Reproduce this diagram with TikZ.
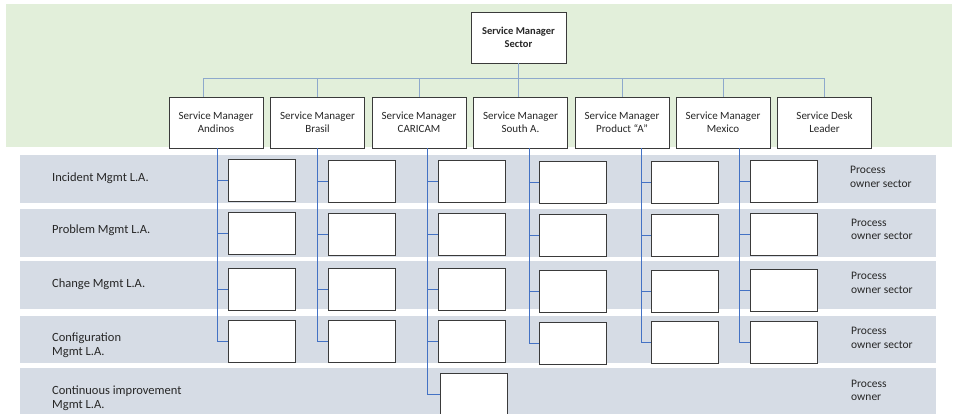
\documentclass[tikz,border=0pt]{standalone}
\usepackage{fontspec}
\setmainfont{Carlito}
\definecolor{greenbg}{HTML}{E2EFDA}
\definecolor{bandbg}{HTML}{D6DCE5}
\definecolor{toplink}{HTML}{8EA9CC}
\definecolor{lowlink}{HTML}{4472C4}
\definecolor{boxline}{HTML}{3A3A3A}
\definecolor{txt}{HTML}{262626}
\tikzset{
  mgr/.style={draw=boxline, fill=white, line width=0.9pt, inner sep=0pt, minimum width=94pt, minimum height=51pt, align=center, text=txt, font=\fontsize{11}{13}\selectfont},
  topmgr/.style={mgr, minimum width=95pt, font=\fontsize{10.5}{13}\selectfont\bfseries},
  slot/.style={draw=boxline, fill=white, line width=0.9pt, inner sep=0pt, minimum width=67pt, minimum height=42pt},
  band/.style={fill=bandbg, draw=none},
  rowlabel/.style={anchor=west, align=left, inner sep=0pt, text=txt, font=\fontsize{12.5}{14.5}\selectfont},
  ownlabel/.style={anchor=west, align=left, inner sep=0pt, text=txt, font=\fontsize{11.5}{13.5}\selectfont},
  topconn/.style={draw=toplink, line width=1.1pt},
  conn/.style={draw=lowlink, line width=1pt}
}
\begin{document}
\begin{tikzpicture}[x=1pt,y=-1pt]
\clip (0,0) rectangle (957,413);
\fill[white] (0,0) rectangle (957,413);
% backgrounds
\fill[greenbg] (6,4) rectangle (952,147);
\fill[band] (20,155) rectangle (936,203);
\fill[band] (20,209) rectangle (936,257);
\fill[band] (20,261) rectangle (936,309);
\fill[band] (20,316) rectangle (936,363);
\fill[band] (20,368) rectangle (936,420);
% top
\node[topmgr] (top) at (518.5,37.5) {Service Manager\\Sector};
\node[mgr] (smA) at (216,122.5) {Service Manager\\Andinos};
\node[mgr] (smB) at (317.5,122.5) {Service Manager\\Brasil};
\node[mgr] (smC) at (419,122.5) {Service Manager\\CARICAM};
\node[mgr] (smS) at (520.5,122.5) {Service Manager\\South A.};
\node[mgr] (smP) at (622,122.5) {Service Manager\\Product “A”};
\node[mgr] (smM) at (723,122.5) {Service Manager\\Mexico};
\node[mgr] (smD) at (824.5,122.5) {Service Desk\\Leader};
\coordinate (bus) at (0,78.5);
\draw[topconn] (top.south) -- (top.south |- bus);
\draw[topconn] (top.south |- bus) -| ([xshift=-12.5pt]smA.north);
\draw[topconn] (top.south |- bus) -| (smB.north);
\draw[topconn] (top.south |- bus) -| ([xshift=0.5pt]smC.north);
\draw[topconn] (top.south |- bus) -| ([xshift=-2pt]smS.north);
\draw[topconn] (top.south |- bus) -| ([xshift=0.5pt]smP.north);
\draw[topconn] (top.south |- bus) -| ([xshift=0.5pt]smM.north);
\draw[topconn] (top.south |- bus) -| (smD.north);
% slots
\node[slot] (a1) at (261.5,180.5) {};
\node[slot] (a2) at (261.5,233.5) {};
\node[slot] (a3) at (261.5,289) {};
\node[slot] (a4) at (261.5,341) {};
\node[slot] (b1) at (362,181) {};
\node[slot] (b2) at (362,234.5) {};
\node[slot] (b3) at (362,289.5) {};
\node[slot] (b4) at (362,341.5) {};
\node[slot] (c1) at (472,181) {};
\node[slot] (c2) at (472,234) {};
\node[slot] (c3) at (472,289.5) {};
\node[slot] (c4) at (472,341.5) {};
\node[slot] (c5) at (473.5,394) {};
\node[slot] (s1) at (573,182.5) {};
\node[slot] (s2) at (573,235.5) {};
\node[slot] (s3) at (573,291) {};
\node[slot] (s4) at (573,343) {};
\node[slot] (p1) at (685,182.5) {};
\node[slot] (p2) at (685,235.5) {};
\node[slot] (p3) at (685,291) {};
\node[slot] (p4) at (685,342.5) {};
\node[slot] (m1) at (784,181.5) {};
\node[slot] (m2) at (784,234.5) {};
\node[slot] (m3) at (784,290) {};
\node[slot] (m4) at (784,342.5) {};
% lower connectors
\foreach \i in {1,...,4} {
  \draw[conn] ([xshift=1.5pt]smA.south) |- (a\i.west);
  \draw[conn] (smB.south) |- (b\i.west);
  \draw[conn] ([xshift=8.5pt]smC.south) |- (c\i.west);
  \draw[conn] ([xshift=9pt]smS.south) |- (s\i.west);
  \draw[conn] ([xshift=19.5pt]smP.south) |- (p\i.west);
  \draw[conn] ([xshift=16.5pt]smM.south) |- (m\i.west);
}
\draw[conn] ([xshift=8.5pt]smC.south) |- (c5.west);
% row labels
\node[rowlabel] (l1) at (52,178) {Incident Mgmt L.A.};
\node[rowlabel] (l2) at (52,230) {Problem Mgmt L.A.};
\node[rowlabel] (l3) at (52,284) {Change Mgmt L.A.};
\node[rowlabel] (l4) at (52,345) {Configuration\\Mgmt L.A.};
\node[rowlabel] (l5) at (52,398) {Continuous improvement\\Mgmt L.A.};
% owner labels
\node[ownlabel] (o1) at (850,177) {Process\\owner sector};
\node[ownlabel] (o2) at (851,229.5) {Process\\owner sector};
\node[ownlabel] (o3) at (851,283) {Process\\owner sector};
\node[ownlabel] (o4) at (851,338) {Process\\owner sector};
\node[ownlabel] (o5) at (851,390.5) {Process\\owner};
\end{tikzpicture}
\end{document}
